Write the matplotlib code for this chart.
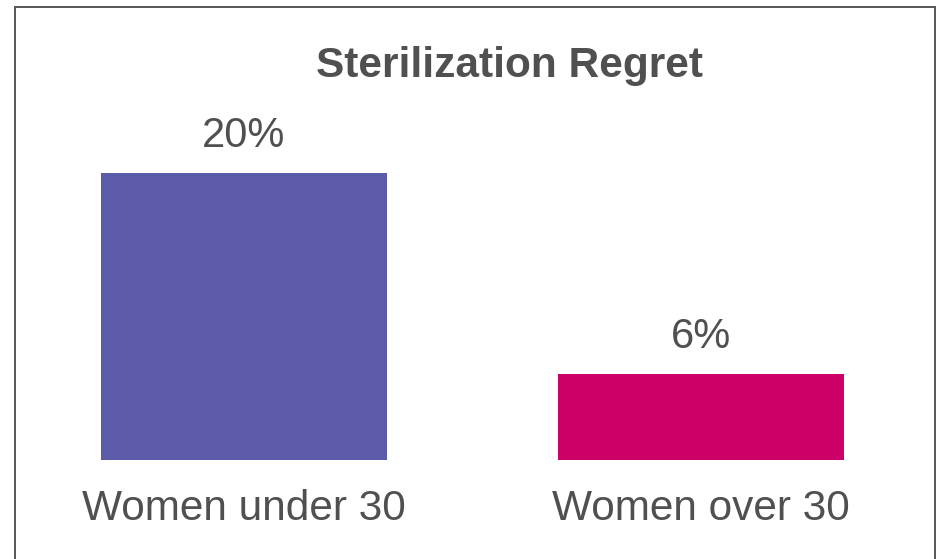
import matplotlib
matplotlib.use("Agg")
import matplotlib.pyplot as plt
from matplotlib.patches import Rectangle
from matplotlib.transforms import offset_copy

categories = ["Women under 30", "Women over 30"]
values = [20, 6]
value_labels = ["20%", "6%"]
colors = ["#5B5BAA", "#CC0066"]
title = "Sterilization Regret"

W, H, DPI = 936, 559, 100
fig = plt.figure(figsize=(W / DPI, H / DPI), dpi=DPI)
fig.patch.set_facecolor("white")

# axes placement in pixels
x0, x1 = 15, 930
yb, yt = 460, 173
ax = fig.add_axes([x0 / W, (H - yb) / H, (x1 - x0) / W, (yb - yt) / H])
ax.set_xlim(-0.5, 1.5)
ax.set_ylim(0, 20)
ax.axis("off")

pos = list(range(len(categories)))
ax.bar(pos, values, width=0.625, color=colors, edgecolor="none")

font = "Liberation Sans"
txtcol = "#505050"
for p, v, lab in zip(pos, values, value_labels):
    ax.annotate(lab, (p, v), xytext=(0, 26 * 72 / DPI), textcoords="offset points",
                ha="center", va="baseline", fontsize=30, family=font, color=txtcol)

trans = offset_copy(ax.get_xaxis_transform(), fig=fig, x=0, y=-60 * 72 / DPI, units="points")
for p, c in zip(pos, categories):
    ax.text(p, 0, c, transform=trans, ha="center", va="baseline",
            fontsize=30.5, family=font, color=txtcol)

fig.text(510 / W, (H - 77) / H, title, ha="center", va="baseline",
         fontsize=30.5, fontweight="bold", family=font, color="#505050")

# outer frame
fig.patches.append(Rectangle((15 / W, -0.1), (935 - 15) / W, (H - 7) / H + 0.1,
                             transform=fig.transFigure, fill=False,
                             edgecolor="#5a5a5a", linewidth=2 * 72 / DPI))

fig.savefig("out.png", dpi=DPI, facecolor="white")
